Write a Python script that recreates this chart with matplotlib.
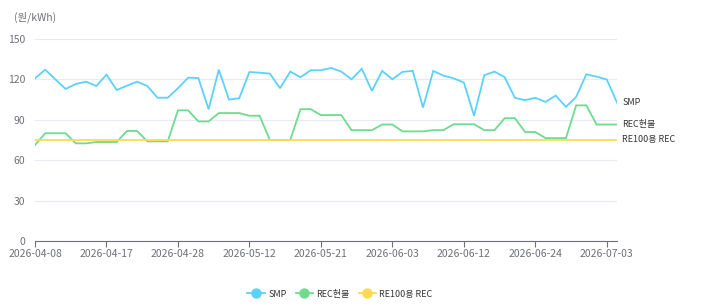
import matplotlib
matplotlib.use("Agg")
import matplotlib.pyplot as plt

plt.rcParams['font.family'] = ['Noto Sans CJK KR', 'DejaVu Sans']

dates = ["2026-04-08", "2026-04-09", "2026-04-10", "2026-04-13", "2026-04-14", "2026-04-15",
         "2026-04-16", "2026-04-17", "2026-04-20", "2026-04-21", "2026-04-22", "2026-04-23",
         "2026-04-24", "2026-04-27", "2026-04-28", "2026-04-29", "2026-04-30", "2026-05-06",
         "2026-05-07", "2026-05-08", "2026-05-11", "2026-05-12", "2026-05-13", "2026-05-14",
         "2026-05-15", "2026-05-18", "2026-05-19", "2026-05-20", "2026-05-21", "2026-05-22",
         "2026-05-26", "2026-05-27", "2026-05-28", "2026-05-29", "2026-06-02", "2026-06-03",
         "2026-06-04", "2026-06-05", "2026-06-08", "2026-06-09", "2026-06-10", "2026-06-11",
         "2026-06-12", "2026-06-15", "2026-06-16", "2026-06-17", "2026-06-18", "2026-06-19",
         "2026-06-23", "2026-06-24", "2026-06-25", "2026-06-26", "2026-06-29", "2026-06-30",
         "2026-07-01", "2026-07-02", "2026-07-03", "2026-07-06"]

smp = [120.8, 127.2, 120.0, 112.9, 116.6, 118.3, 115.1, 123.5, 112.1, 115.3,
       118.3, 115.1, 106.4, 106.4, 113.4, 121.3, 121.0, 97.8, 127.2, 105.0,
       106.0, 125.5, 125.0, 124.3, 113.5, 125.8, 121.6, 126.8, 126.8, 128.5,
       125.8, 120.1, 127.8, 111.5, 126.3, 120.1, 125.6, 126.3, 99.1, 126.3,
       122.8, 120.8, 117.7, 93.0, 123.1, 125.8, 121.6, 106.3, 104.6, 106.3,
       103.3, 108.0, 99.6, 107.0, 123.8, 122.1, 119.9, 102.8]

rec = [71.3, 80.0, 80.0, 80.0, 72.5, 72.5, 73.5, 73.5, 73.5, 81.7,
       81.7, 74.0, 74.0, 74.0, 97.0, 97.0, 88.8, 88.8, 95.0, 95.0,
       95.0, 93.0, 93.0, 75.0, 75.0, 75.0, 97.9, 97.9, 93.5, 93.5,
       93.5, 82.3, 82.3, 82.3, 86.5, 86.5, 81.4, 81.4, 81.4, 82.3,
       82.3, 86.7, 86.7, 86.7, 82.3, 82.3, 91.2, 91.2, 80.9, 80.9,
       76.4, 76.4, 76.4, 100.7, 100.7, 86.5, 86.5, 86.5]

re100 = [75.0] * len(dates)

names = ["SMP", "REC현물", "RE100용 REC"]
colors = ["#5CD2FA", "#6FDB8E", "#FCDB53"]
series = [smp, rec, re100]

fig = plt.figure(figsize=(7.05, 3.08), dpi=100)
ax = fig.add_axes([35 / 705, 1 - 241 / 308, 582 / 705, 202 / 308])

x = list(range(len(dates)))
for vals, name, c in zip(series, names, colors):
    ax.plot(x, vals, color=c, lw=1.3, label=name, solid_joinstyle='miter')
    ax.text(len(dates) - 1 + 0.5, vals[-1], name, fontsize=6.5, color='#333333',
            va='center', ha='left', clip_on=False)

ax.set_xlim(0, len(dates) - 1)
ax.set_ylim(0, 150)
ax.set_yticks([0, 30, 60, 90, 120, 150])
ax.set_xticks(x[::7])
ax.set_xticklabels(dates[::7])
ax.tick_params(axis='x', colors='#6E7079', labelsize=7.5, length=4, width=0.8,
               direction='out', pad=2)
ax.tick_params(axis='y', colors='#6E7079', labelsize=7.5, length=0, pad=7)
ax.grid(axis='y', color='#E6EAF2', lw=0.8)
ax.set_axisbelow(True)
for s in ['top', 'right', 'left']:
    ax.spines[s].set_visible(False)
ax.spines['bottom'].set_color('#6E7079')
ax.spines['bottom'].set_linewidth(0.8)

ax.text(0.0, 1.08, "(원/kWh)", transform=ax.transAxes, fontsize=7.5,
        color='#6E7079', ha='center', va='bottom')

handles = [plt.Line2D([], [], color=c, lw=1.3, marker='o', markersize=6.5,
                      markeredgecolor=c) for c in colors]
fig.legend(handles, names, loc='center', bbox_to_anchor=(340 / 705, 1 - 294 / 308),
           ncol=3, frameon=False, fontsize=6.5, handlelength=1.9, handletextpad=0.4,
           columnspacing=1.0, labelcolor='#333333')

fig.savefig("out.png", dpi=100)
